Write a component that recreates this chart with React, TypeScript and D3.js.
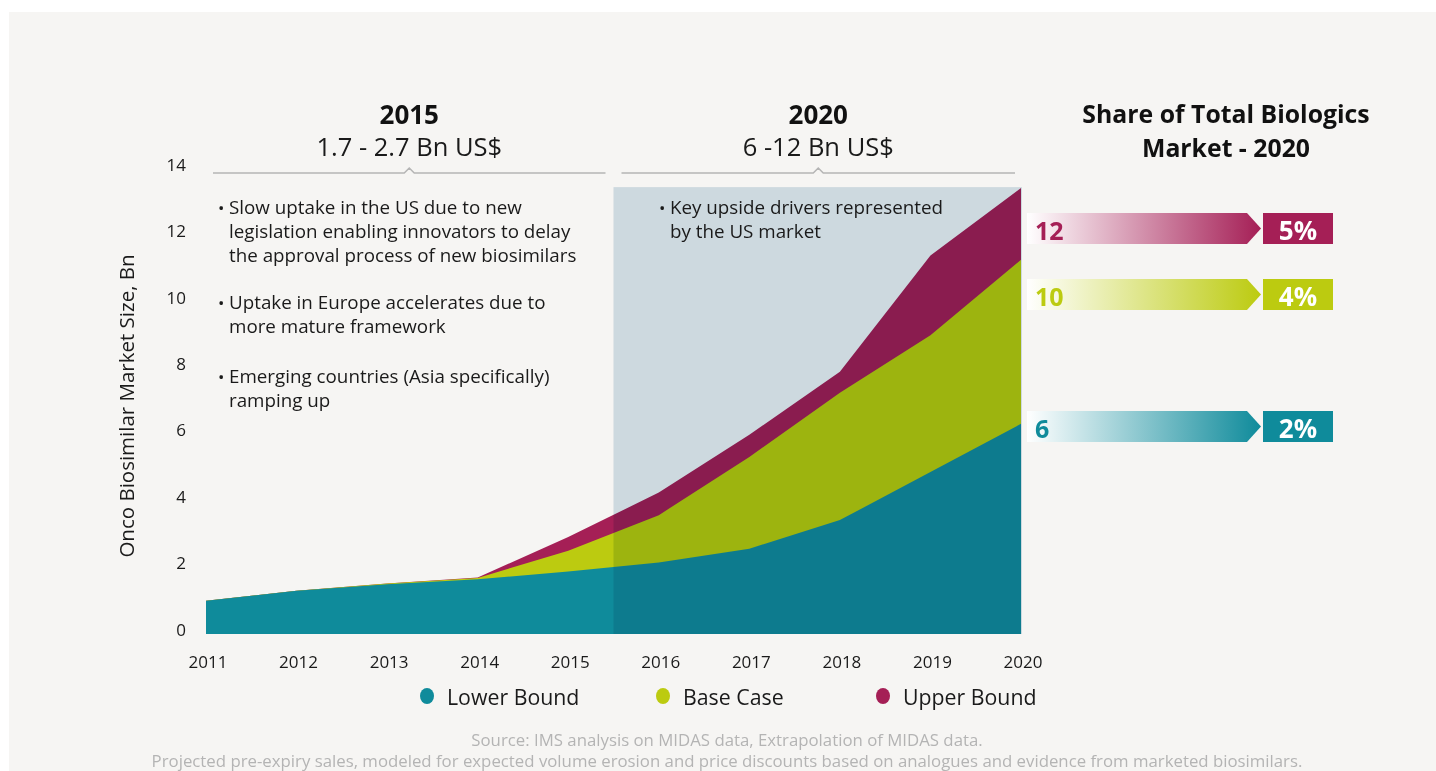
import React from "react";
import * as d3 from "d3";

const years = [2011, 2012, 2013, 2014, 2015, 2016, 2017, 2018, 2019, 2020];
const lowerBound = [1.0, 1.3, 1.5, 1.65, 1.88, 2.15, 2.57, 3.43, 4.88, 6.33];
const baseCase = [1.0, 1.3, 1.52, 1.69, 2.51, 3.58, 5.33, 7.27, 9.0, 11.27];
const upperBound = [1.0, 1.3, 1.52, 1.7, 2.92, 4.26, 6.0, 7.9, 11.4, 13.43];
const yTicks = [0, 2, 4, 6, 8, 10, 12, 14];
const seriesNames = ["Lower Bound", "Base Case", "Upper Bound"];
const seriesColors = ["#0f8b9b", "#bccb10", "#a51f56"];
const shareValues = ["12", "10", "6"];
const sharePercents = ["5%", "4%", "2%"];
const shareColors = ["#a51f56", "#bccb10", "#0f8b9b"];
const periodTitles = ["2015", "2020"];
const periodRanges = ["1.7 - 2.7 Bn US$", "6 -12 Bn US$"];
const leftBullets = [
  ["Slow uptake in the US due to new", "legislation enabling innovators to delay", "the approval process of new biosimilars"],
  ["Uptake in Europe accelerates due to", "more mature framework"],
  ["Emerging countries (Asia specifically)", "ramping up"],
];
const rightBullets = [["Key upside drivers represented", "by the US market"]];
const forecastStart = 2015.5;

const W = 1436;
const H = 771;
const FONT = "'Open Sans', 'Noto Sans', sans-serif";

export default function App() {
  const x = d3.scaleLinear().domain([2011, 2020]).range([206, 1021]);
  const y = d3.scaleLinear().domain([0, 14]).range([634, 169.2]);

  const mk = (vals: number[]) =>
    d3
      .area<number>()
      .x((_, i) => x(years[i]))
      .y0(y(0))
      .y1((d) => y(d))
      .curve(d3.curveLinear)(vals) as string;

  const series = [upperBound, baseCase, lowerBound];
  const seriesCol = [seriesColors[2], seriesColors[1], seriesColors[0]];
  const shadeTop = y(d3.max(upperBound) as number);

  const brackets = [
    [x(2011) + 7, x(forecastStart) - 8],
    [x(forecastStart) + 8, x(2020) - 6],
  ];
  const arrowTops = [213, 279, 411];
  const legendX = [427, 663, 883];

  const lineH = 24;
  const bulletSize = 18.8;

  return (
    <svg
      width={W}
      height={H}
      style={{ position: "absolute", left: 0, top: 0, fontFamily: FONT }}
    >
      <defs>
        {shareColors.map((c, i) => (
          <linearGradient id={`g${i}`} key={i} x1="0" x2="1" y1="0" y2="0">
            <stop offset="0%" stopColor="#ffffff" />
            <stop offset="100%" stopColor={c} />
          </linearGradient>
        ))}
      </defs>
      <rect x={0} y={0} width={W} height={H} fill="#ffffff" />
      <rect x={9} y={12} width={W - 9} height={H - 12} fill="#f6f5f3" />

      {/* areas */}
      {series.map((s, i) => (
        <path key={i} d={mk(s)} fill={seriesCol[i]} />
      ))}
      {/* forecast shade */}
      <rect
        x={x(forecastStart)}
        y={shadeTop - 1}
        width={x(2020) - x(forecastStart) + 1}
        height={y(0) - shadeTop + 1}
        fill="#d5e2ea"
        style={{ mixBlendMode: "multiply" }}
      />

      {/* y ticks */}
      {yTicks.map((t) => (
        <text
          key={t}
          x={186}
          y={y(t) - 5}
          textAnchor="end"
          dominantBaseline="central"
          fontSize={17}
          fill="#1a1a1a"
        >
          {t}
        </text>
      ))}
      <text
        transform={`translate(126,406) rotate(-90)`}
        textAnchor="middle"
        dominantBaseline="central"
        fontSize={20.5}
        fill="#1a1a1a"
      >
        Onco Biosimilar Market Size, Bn
      </text>

      {/* x ticks */}
      {years.map((yr) => (
        <text
          key={yr}
          x={x(yr) + 2}
          y={661}
          textAnchor="middle"
          dominantBaseline="central"
          fontSize={17}
          fill="#1a1a1a"
        >
          {yr}
        </text>
      ))}

      {/* legend */}
      {seriesNames.map((n, i) => (
        <g key={n}>
          <ellipse cx={legendX[i]} cy={696} rx={7} ry={8} fill={seriesColors[i]} />
          <text x={legendX[i] + 20} y={696} dominantBaseline="central" fontSize={21.3} fill="#1a1a1a">
            {n}
          </text>
        </g>
      ))}

      {/* period headers */}
      {brackets.map(([a, b], i) => {
        const m = (a + b) / 2;
        return (
          <g key={i}>
            <path
              d={`M${a},173 H${m - 5} L${m},168 L${m + 5},173 H${b}`}
              fill="none"
              stroke="#b5b5b5"
              strokeWidth={1.5}
            />
            <text x={m} y={114} textAnchor="middle" dominantBaseline="central" fontSize={26} fontWeight={700} fill="#111">
              {periodTitles[i]}
            </text>
            <text x={m} y={146} textAnchor="middle" dominantBaseline="central" fontSize={25.5} fill="#1a1a1a">
              {periodRanges[i]}
            </text>
          </g>
        );
      })}

      {/* bullets */}
      {(() => {
        const rows: { t: string; b: boolean; yy: number }[] = [];
        const starts = [207, 302, 376];
        leftBullets.forEach((blk, bi) =>
          blk.forEach((ln, li) => rows.push({ t: ln, b: li === 0, yy: starts[bi] + li * lineH }))
        );
        return rows.map((r, i) => (
          <g key={i}>
            {r.b && (
              <text x={218} y={r.yy} dominantBaseline="central" fontSize={17} fill="#1a1a1a">
                •
              </text>
            )}
            <text x={229} y={r.yy} dominantBaseline="central" fontSize={bulletSize} fill="#1a1a1a">
              {r.t}
            </text>
          </g>
        ));
      })()}
      {rightBullets[0].map((ln, li) => (
        <g key={li}>
          {li === 0 && (
            <text x={659} y={207} dominantBaseline="central" fontSize={17} fill="#1a1a1a">
              •
            </text>
          )}
          <text x={670} y={207 + li * lineH} dominantBaseline="central" fontSize={bulletSize} fill="#1a1a1a">
            {ln}
          </text>
        </g>
      ))}

      {/* right panel */}
      <text x={1226} y={113} textAnchor="middle" dominantBaseline="central" fontSize={24.8} fontWeight={700} fill="#111">
        Share of Total Biologics
      </text>
      <text x={1226} y={147} textAnchor="middle" dominantBaseline="central" fontSize={24.8} fontWeight={700} fill="#111">
        Market - 2020
      </text>
      {shareValues.map((v, i) => {
        const t = arrowTops[i];
        const h = 31;
        return (
          <g key={v}>
            <path
              d={`M1027,${t} H1247 L1261,${t + h / 2} L1247,${t + h} H1027 Z`}
              fill={`url(#g${i})`}
            />
            <text x={1035} y={t + h / 2 + 1} dominantBaseline="central" fontSize={25} fontWeight={700} fill={shareColors[i]}>
              {v}
            </text>
            <rect x={1263} y={t} width={70} height={h} fill={shareColors[i]} />
            <text x={1298} y={t + h / 2 + 1} textAnchor="middle" dominantBaseline="central" fontSize={26} fontWeight={700} fill="#fff">
              {sharePercents[i]}
            </text>
          </g>
        );
      })}

      {/* source */}
      <text x={727} y={739} textAnchor="middle" dominantBaseline="central" fontSize={16.8} fill="#b4b4b4">
        Source: IMS analysis on MIDAS data, Extrapolation of MIDAS data.
      </text>
      <text x={727} y={760} textAnchor="middle" dominantBaseline="central" fontSize={16.8} fill="#b4b4b4">
        Projected pre-expiry sales, modeled for expected volume erosion and price discounts based on analogues and evidence from marketed biosimilars.
      </text>
    </svg>
  );
}
